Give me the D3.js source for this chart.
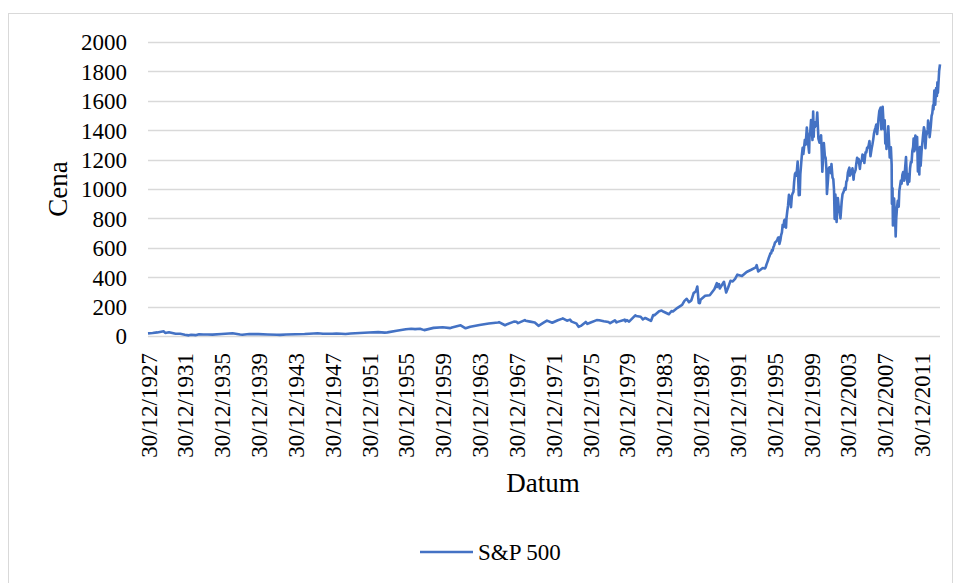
<!DOCTYPE html>
<html>
<head>
<meta charset="utf-8">
<script src="https://cdn.jsdelivr.net/npm/d3@7"></script>
<style>
  body { margin: 0; background: #fff; }
  svg text { font-family: "Liberation Serif", "Times New Roman", serif; fill: #000; }
</style>
</head>
<body>
<div id="chart"></div>
<script>
// S&P 500 closes (date, price)
const sp500 = [
  ["1927-12-30", 17.7], ["1928-06-30", 20.5], ["1928-12-30", 24.4], ["1929-09-15", 31.9], ["1929-11-13", 20.4],
  ["1930-04-10", 25.5], ["1930-12-30", 15.3], ["1931-06-30", 14.8], ["1931-12-30", 8.1], ["1932-06-01", 4.4],
  ["1932-09-07", 8.0], ["1933-02-27", 5.7], ["1933-07-18", 12.2], ["1933-12-30", 10.1], ["1934-06-30", 9.9],
  ["1934-12-30", 9.5], ["1935-12-30", 13.4], ["1937-03-06", 18.7], ["1937-12-30", 10.6], ["1938-03-31", 8.5],
  ["1938-12-30", 13.2], ["1939-12-30", 12.5], ["1940-12-30", 10.6], ["1941-12-30", 8.7], ["1942-04-28", 7.5],
  ["1942-12-30", 9.8], ["1943-12-30", 11.7], ["1944-12-30", 13.3], ["1945-12-30", 17.4], ["1946-05-29", 19.2],
  ["1946-12-30", 15.3], ["1947-12-30", 15.3], ["1948-06-15", 17.0], ["1948-12-30", 15.2], ["1949-06-13", 14.0],
  ["1949-12-30", 16.8], ["1950-12-30", 20.4], ["1951-12-30", 23.8], ["1952-12-30", 26.6], ["1953-09-14", 23.0],
  ["1953-12-30", 24.8], ["1954-12-30", 36.0], ["1955-12-30", 45.5], ["1956-07-31", 49.4], ["1956-12-30", 46.7],
  ["1957-07-15", 49.1], ["1957-12-30", 40.0], ["1958-12-30", 55.2], ["1959-12-30", 59.9], ["1960-10-25", 53.4],
  ["1960-12-30", 58.1], ["1961-12-12", 72.6], ["1962-06-26", 52.3], ["1962-12-30", 63.1], ["1963-12-30", 75.0],
  ["1964-12-30", 84.8], ["1965-12-30", 92.4], ["1966-02-09", 94.1], ["1966-10-07", 73.2], ["1966-12-30", 80.3],
  ["1967-09-25", 97.6], ["1967-12-30", 96.5], ["1968-03-05", 87.7], ["1968-11-29", 108.4], ["1968-12-30", 103.9],
  ["1969-06-30", 97.7], ["1969-12-30", 92.1], ["1970-05-26", 69.3], ["1970-12-30", 92.2], ["1971-04-28", 104.8],
  ["1971-11-23", 90.2], ["1972-06-30", 107.1], ["1972-12-30", 118.1], ["1973-01-11", 120.2], ["1973-06-30", 104.3],
  ["1973-10-26", 111.4], ["1973-12-30", 97.6], ["1974-06-30", 86.0], ["1974-10-03", 62.3], ["1974-12-30", 68.6],
  ["1975-07-15", 95.6], ["1975-09-16", 82.1], ["1975-12-30", 90.2], ["1976-09-21", 107.8], ["1976-12-30", 107.5],
  ["1977-06-30", 100.5], ["1977-12-30", 95.1], ["1978-03-06", 86.9], ["1978-09-12", 106.9], ["1978-11-14", 92.5],
  ["1978-12-30", 96.1], ["1979-10-05", 111.3], ["1979-11-07", 99.9], ["1979-12-30", 107.9], ["1980-03-27", 98.2],
  ["1980-11-28", 140.5], ["1980-12-30", 135.8], ["1981-06-30", 131.2], ["1981-09-25", 112.8], ["1981-12-30", 122.6],
  ["1982-08-12", 102.4], ["1982-11-09", 143.0], ["1982-12-30", 140.6], ["1983-06-30", 168.1], ["1983-10-10", 172.7],
  ["1983-12-30", 164.9], ["1984-07-24", 147.8], ["1984-11-06", 170.4], ["1984-12-30", 167.2], ["1985-06-30", 191.9],
  ["1985-12-30", 211.3], ["1986-03-31", 238.9], ["1986-07-02", 252.7], ["1986-09-29", 229.9], ["1986-12-30", 242.2],
  ["1987-03-31", 291.7], ["1987-06-30", 304.0], ["1987-08-25", 336.8], ["1987-10-19", 224.8], ["1987-12-04", 223.9],
  ["1987-12-30", 247.1], ["1988-06-30", 273.5], ["1988-12-30", 277.7], ["1989-06-30", 317.9], ["1989-10-09", 359.8],
  ["1989-10-13", 333.6], ["1989-12-30", 353.4], ["1990-01-30", 322.9], ["1990-07-16", 369.0], ["1990-10-11", 295.5],
  ["1990-12-30", 330.2], ["1991-03-31", 375.2], ["1991-06-30", 371.2], ["1991-09-30", 387.9], ["1991-12-30", 417.1],
  ["1992-06-30", 408.1], ["1992-12-30", 435.7], ["1993-06-30", 450.5], ["1993-12-30", 466.5], ["1994-02-02", 482.0],
  ["1994-04-04", 438.9], ["1994-09-30", 462.7], ["1994-12-30", 459.3],
  ["1995-01-31", 470], ["1995-02-28", 487], ["1995-03-31", 501], ["1995-04-30", 515], ["1995-05-31", 533],
  ["1995-06-30", 545], ["1995-07-31", 562], ["1995-08-31", 562], ["1995-09-30", 584], ["1995-10-31", 582],
  ["1995-11-30", 605], ["1995-12-30", 616],
  ["1996-01-31", 636], ["1996-02-28", 640], ["1996-03-31", 646], ["1996-04-30", 654], ["1996-05-31", 669],
  ["1996-06-30", 671], ["1996-07-24", 626], ["1996-08-31", 652], ["1996-09-30", 687], ["1996-10-31", 705],
  ["1996-11-30", 757], ["1996-12-30", 741],
  ["1997-01-31", 786], ["1997-02-28", 791], ["1997-04-11", 737], ["1997-04-30", 801], ["1997-05-31", 848],
  ["1997-06-30", 885], ["1997-08-06", 960], ["1997-08-29", 899], ["1997-09-30", 947], ["1997-10-27", 877],
  ["1997-11-30", 955], ["1997-12-30", 970],
  ["1998-01-31", 980], ["1998-02-28", 1049], ["1998-03-31", 1102], ["1998-04-30", 1112], ["1998-05-31", 1091],
  ["1998-07-17", 1187], ["1998-08-31", 957], ["1998-09-30", 1017], ["1998-10-08", 959], ["1998-10-31", 1099],
  ["1998-11-30", 1164], ["1998-12-30", 1229],
  ["1999-01-31", 1280], ["1999-02-28", 1238], ["1999-03-31", 1286], ["1999-04-30", 1335], ["1999-05-31", 1302],
  ["1999-07-16", 1418], ["1999-08-31", 1320], ["1999-10-15", 1247], ["1999-10-31", 1363], ["1999-11-30", 1389],
  ["1999-12-30", 1469],
  ["2000-01-31", 1394], ["2000-02-25", 1333], ["2000-03-24", 1527], ["2000-04-14", 1356], ["2000-04-30", 1452],
  ["2000-05-31", 1421], ["2000-06-30", 1455], ["2000-07-31", 1431], ["2000-09-01", 1520], ["2000-10-18", 1342],
  ["2000-11-30", 1315], ["2000-12-30", 1320],
  ["2001-01-31", 1366], ["2001-02-28", 1240], ["2001-03-22", 1117], ["2001-04-30", 1249], ["2001-05-21", 1312],
  ["2001-06-30", 1224], ["2001-07-31", 1211], ["2001-08-31", 1134], ["2001-09-21", 966], ["2001-10-31", 1060],
  ["2001-11-30", 1139], ["2001-12-30", 1148],
  ["2002-01-31", 1130], ["2002-02-28", 1107], ["2002-03-19", 1170], ["2002-04-30", 1077], ["2002-05-31", 1067],
  ["2002-06-30", 990], ["2002-07-23", 797], ["2002-08-22", 962], ["2002-09-30", 815], ["2002-10-09", 776],
  ["2002-11-27", 938], ["2002-12-30", 880],
  ["2003-01-31", 856], ["2003-03-11", 800], ["2003-03-31", 848], ["2003-04-30", 917], ["2003-05-31", 964],
  ["2003-06-30", 975], ["2003-07-31", 990], ["2003-08-31", 1008], ["2003-09-30", 996], ["2003-10-31", 1051],
  ["2003-11-30", 1058], ["2003-12-30", 1112],
  ["2004-01-31", 1131], ["2004-02-28", 1145], ["2004-03-24", 1091], ["2004-04-30", 1107], ["2004-05-31", 1121],
  ["2004-06-30", 1141], ["2004-08-12", 1064], ["2004-08-31", 1104], ["2004-09-30", 1115], ["2004-10-31", 1130],
  ["2004-11-30", 1174], ["2004-12-30", 1212],
  ["2005-01-31", 1181], ["2005-02-28", 1204], ["2005-04-20", 1137], ["2005-04-30", 1157], ["2005-05-31", 1192],
  ["2005-06-30", 1191], ["2005-07-31", 1234], ["2005-08-31", 1220], ["2005-09-30", 1229], ["2005-10-13", 1177],
  ["2005-11-30", 1249], ["2005-12-30", 1248],
  ["2006-01-31", 1280], ["2006-02-28", 1281], ["2006-03-31", 1295], ["2006-05-05", 1326], ["2006-06-13", 1223],
  ["2006-07-31", 1277], ["2006-08-31", 1304], ["2006-09-30", 1336], ["2006-10-31", 1378], ["2006-11-30", 1401],
  ["2006-12-30", 1418],
  ["2007-01-31", 1438], ["2007-03-05", 1374], ["2007-03-31", 1421], ["2007-04-30", 1482], ["2007-05-31", 1531],
  ["2007-07-19", 1553], ["2007-08-15", 1407], ["2007-08-31", 1474], ["2007-09-30", 1527], ["2007-10-09", 1560],
  ["2007-11-26", 1407], ["2007-12-30", 1468],
  ["2008-01-22", 1310], ["2008-02-28", 1331], ["2008-03-10", 1273], ["2008-04-30", 1386], ["2008-05-19", 1426],
  ["2008-06-30", 1280], ["2008-07-15", 1214], ["2008-08-31", 1283], ["2008-09-30", 1166], ["2008-10-10", 899],
  ["2008-11-04", 1005], ["2008-11-20", 752], ["2008-12-30", 903],
  ["2009-01-06", 935], ["2009-01-31", 826], ["2009-02-28", 735], ["2009-03-09", 677], ["2009-03-31", 798],
  ["2009-04-30", 873], ["2009-05-31", 919], ["2009-07-08", 879], ["2009-07-31", 987], ["2009-08-31", 1021],
  ["2009-09-30", 1057], ["2009-10-31", 1036], ["2009-11-30", 1096], ["2009-12-30", 1115],
  ["2010-01-31", 1074], ["2010-02-08", 1056], ["2010-03-31", 1169], ["2010-04-23", 1217], ["2010-05-25", 1074],
  ["2010-06-30", 1031], ["2010-07-31", 1102], ["2010-08-31", 1049], ["2010-09-30", 1141], ["2010-10-31", 1183],
  ["2010-11-30", 1181], ["2010-12-30", 1258],
  ["2011-01-31", 1286], ["2011-02-18", 1343], ["2011-03-16", 1257], ["2011-04-29", 1364], ["2011-05-31", 1345],
  ["2011-06-24", 1268], ["2011-07-07", 1353], ["2011-08-08", 1119], ["2011-09-30", 1131], ["2011-10-03", 1099],
  ["2011-10-27", 1285], ["2011-11-25", 1159], ["2011-12-30", 1258],
  ["2012-01-31", 1312], ["2012-02-29", 1366], ["2012-04-02", 1419], ["2012-04-30", 1398], ["2012-06-01", 1278],
  ["2012-06-30", 1362], ["2012-07-31", 1379], ["2012-08-31", 1407], ["2012-09-14", 1466], ["2012-10-31", 1412],
  ["2012-11-15", 1353], ["2012-12-30", 1426],
  ["2013-01-31", 1498], ["2013-02-28", 1515], ["2013-03-31", 1569], ["2013-04-18", 1541], ["2013-05-21", 1669],
  ["2013-06-24", 1573], ["2013-07-31", 1686], ["2013-08-30", 1633], ["2013-09-18", 1725], ["2013-10-08", 1655],
  ["2013-11-29", 1806], ["2013-12-31", 1848]
];

const yTicks = [0, 200, 400, 600, 800, 1000, 1200, 1400, 1600, 1800, 2000];
const xTickLabels = [
  "30/12/1927", "30/12/1931", "30/12/1935", "30/12/1939", "30/12/1943", "30/12/1947",
  "30/12/1951", "30/12/1955", "30/12/1959", "30/12/1963", "30/12/1967", "30/12/1971",
  "30/12/1975", "30/12/1979", "30/12/1983", "30/12/1987", "30/12/1991", "30/12/1995",
  "30/12/1999", "30/12/2003", "30/12/2007", "30/12/2011"
];
const seriesName = "S&P 500";

const width = 956, height = 583;
const plot = { left: 148, right: 940, top: 42, bottom: 336 };
const serif = "'Liberation Serif', 'Times New Roman', serif";

const parseDate = d3.timeParse("%Y-%m-%d");
const parseTick = d3.timeParse("%d/%m/%Y");
const data = sp500.map(d => ({ date: parseDate(d[0]), value: d[1] }));

const svg = d3.select("#chart").append("svg")
    .attr("width", width)
    .attr("height", height);

// chart frame
svg.append("rect")
    .attr("x", 8.5).attr("y", 13.5)
    .attr("width", 944).attr("height", 600)
    .attr("fill", "none")
    .attr("stroke", "#d9d9d9");

const xScale = d3.scaleTime()
    .domain([parseDate("1927-12-30"), parseDate("2013-12-31")])
    .range([plot.left, plot.right]);

const yScale = d3.scaleLinear()
    .domain([0, 2000])
    .range([plot.bottom, plot.top]);

// gridlines
svg.append("g")
    .selectAll("line")
    .data(yTicks)
    .join("line")
    .attr("x1", plot.left)
    .attr("x2", plot.right)
    .attr("y1", d => Math.round(yScale(d)) + 0.5)
    .attr("y2", d => Math.round(yScale(d)) + 0.5)
    .attr("stroke", "#d9d9d9")
    .attr("stroke-width", 1.3);

// y axis labels
const yAxis = svg.append("g")
    .attr("transform", `translate(${plot.left - 21},0)`)
    .call(d3.axisLeft(yScale).tickValues(yTicks).tickSize(0).tickPadding(0).tickFormat(d3.format("d")))
    .attr("font-family", serif)
    .attr("font-size", 23);
yAxis.select(".domain").remove();
yAxis.selectAll("text")
    .attr("dy", "0.34em");

// x axis labels
const xAxis = svg.append("g")
    .attr("transform", `translate(0,${plot.bottom})`)
    .call(d3.axisBottom(xScale)
        .tickValues(xTickLabels.map(parseTick))
        .tickSize(0)
        .tickFormat((d, i) => xTickLabels[i]))
    .attr("font-family", serif)
    .attr("font-size", 23);
xAxis.select(".domain").remove();
xAxis.selectAll("text")
    .attr("text-anchor", "end")
    .attr("x", 0)
    .attr("y", 0)
    .attr("dy", "0.35em")
    .attr("transform", "translate(0,17) rotate(-90)");

// series line
const line = d3.line()
    .x(d => xScale(d.date))
    .y(d => yScale(d.value));

svg.append("path")
    .datum(data)
    .attr("fill", "none")
    .attr("stroke", "#4472c4")
    .attr("stroke-width", 2.6)
    .attr("stroke-linejoin", "round")
    .attr("d", line);

// axis titles
svg.append("text")
    .attr("x", 543)
    .attr("y", 492)
    .attr("text-anchor", "middle")
    .style("font-size", "27px")
    .text("Datum");

svg.append("text")
    .attr("transform", "translate(67,189) rotate(-90)")
    .attr("text-anchor", "middle")
    .style("font-size", "27px")
    .text("Cena");

// legend
const legend = svg.append("g").attr("transform", "translate(420,552)");
legend.append("line")
    .attr("x1", 0).attr("x2", 53)
    .attr("y1", 0).attr("y2", 0)
    .attr("stroke", "#4472c4")
    .attr("stroke-width", 2.6);
legend.append("text")
    .attr("x", 58)
    .attr("y", 8)
    .style("font-size", "23px")
    .text(seriesName);
</script>
</body>
</html>
